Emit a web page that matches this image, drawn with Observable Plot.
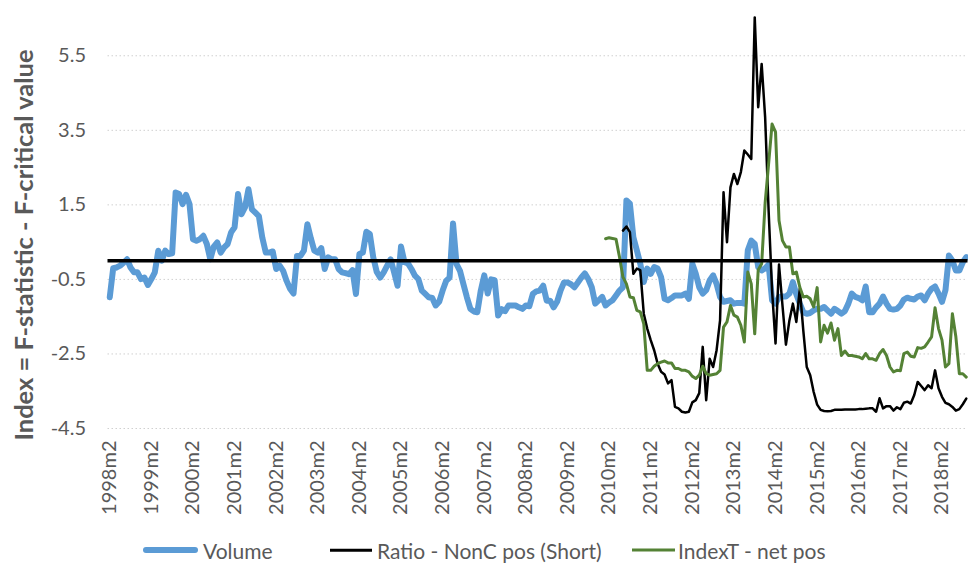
<!DOCTYPE html>
<html>
<head>
<meta charset="utf-8">
<script src="https://cdn.jsdelivr.net/npm/d3@7"></script>
<script src="https://cdn.jsdelivr.net/npm/@observablehq/plot@0.6"></script>
<style>
  html, body { margin: 0; padding: 0; background: #fff; }
  #chart { width: 968px; font-family: Lato, "Open Sans", sans-serif; }
  .legend { position: relative; height: 28px; margin-top: 6px;
            font-family: Lato, sans-serif; font-size: 21px; color: #595959; }
  .legend .sw { position: absolute; top: 50%; transform: translateY(-50%); }
  .legend .lab { position: absolute; top: 50%; transform: translateY(-50%); white-space: nowrap; line-height: 1; }
</style>
</head>
<body>
<div id="chart"></div>
<script>
// ---- Data (monthly, starting 1998m2) ----
const startYear = 1998, startMonth = 2;
const seriesNames = ["Volume", "Ratio - NonC pos (Short)", "IndexT - net pos"];
const xTickLabels = ["1998m2","1999m2","2000m2","2001m2","2002m2","2003m2","2004m2","2005m2","2006m2","2007m2",
  "2008m2","2009m2","2010m2","2011m2","2012m2","2013m2","2014m2","2015m2","2016m2","2017m2","2018m2"];
const yTicks = [-4.5, -2.5, -0.5, 1.5, 3.5, 5.5];

const volume = [
  -0.98,-0.2,-0.18,-0.13,-0.05,0.04,-0.18,-0.31,-0.31,-0.49,-0.45,-0.65,
  -0.49,-0.31,0.27,0.0,0.27,0.18,0.2,1.83,1.79,1.52,1.77,1.52,
  0.58,0.54,0.58,0.67,0.45,0.04,0.38,0.49,0.22,0.36,0.45,0.76,
  0.9,1.79,1.25,1.43,1.92,1.38,1.29,1.2,0.62,0.22,0.22,0.25,
  -0.22,-0.13,-0.27,-0.54,-0.75,-0.88,0.13,0.13,0.27,0.98,0.6,0.27,
  0.22,0.34,-0.22,0.09,0.04,0.04,-0.22,-0.31,-0.33,-0.36,-0.25,-0.89,
  0.18,0.22,0.78,0.72,0.09,-0.3,-0.45,-0.31,-0.13,0.04,-0.31,-0.67,
  0.38,-0.04,-0.07,-0.22,-0.4,-0.49,-0.8,-0.89,-0.98,-1.0,-1.2,-1.1,
  -0.8,-0.54,-0.45,1.0,-0.09,-0.27,-0.63,-0.98,-1.29,-1.36,-1.38,-0.8,
  -0.39,-0.88,-0.5,-0.52,-1.47,-1.3,-1.35,-1.2,-1.2,-1.2,-1.25,-1.29,
  -1.2,-1.22,-0.89,-0.82,-0.8,-0.67,-1.07,-1.07,-1.25,-1.1,-0.8,-0.58,
  -0.58,-0.63,-0.71,-0.58,-0.45,-0.34,-0.49,-0.71,-1.15,-1.06,-0.97,-1.2,
  -1.12,-1.06,-0.93,-0.8,-0.71,1.62,1.53,0.63,0.28,-0.08,-0.57,-0.21,
  -0.35,-0.17,-0.21,-0.44,-1.02,-1.06,-1.0,-0.93,-0.93,-0.93,-0.88,-1.02,
  -0.08,-0.35,-0.71,-0.88,-0.79,-0.53,-0.39,-0.62,-0.97,-1.1,-1.08,-1.06,
  -1.15,-1.13,-1.13,-1.15,0.28,0.54,0.45,-0.17,-0.26,-0.2,-0.1,-1.06,
  -1.15,-0.97,-0.96,-0.96,-0.88,-0.57,-0.9,-1.15,-1.38,-1.42,-1.4,-1.33,
  -1.29,-1.29,-1.24,-1.33,-1.42,-1.29,-1.35,-1.42,-1.35,-1.15,-0.88,-0.97,
  -1.0,-1.06,-0.69,-1.38,-1.38,-1.25,-1.15,-0.96,-1.15,-1.29,-1.31,-1.29,
  -1.2,-1.04,-0.99,-1.02,-1.04,-0.96,-0.93,-1.06,-0.88,-0.75,-0.69,-0.88,
  -1.1,-0.79,0.14,0.0,-0.26,-0.26,-0.04,0.1
];

// Ratio - NonC pos (Short): starts 2010m6
const ratioStart = 148;
const ratio = [
  0.81,0.92,0.77,-0.35,-0.21,-0.25,-1.42,-1.82,-2.13,-2.4,-2.76,-2.98,
  -3.05,-3.29,-3.2,-3.92,-3.96,-4.05,-4.07,-4.05,-3.8,-3.74,-3.55,-2.31,
  -3.74,-2.63,-2.85,-2.4,-1.6,1.84,0.5,1.97,2.33,2.06,2.38,2.96,
  2.85,2.73,6.53,4.12,5.28,3.85,1.35,-0.8,-2.22,-0.1,-1.2,-2.25,
  -1.6,-1.15,-1.64,-0.75,-1.87,-2.85,-3.07,-3.52,-3.86,-4.0,-4.03,-4.04,
  -4.03,-4.0,-4.0,-4.0,-3.99,-3.99,-3.99,-3.99,-3.98,-3.98,-3.97,-3.96,
  -3.96,-4.05,-3.69,-3.96,-3.9,-3.9,-4.02,-3.93,-3.98,-3.81,-3.78,-3.83,
  -3.6,-3.25,-3.36,-3.47,-3.34,-3.42,-2.94,-3.42,-3.65,-3.81,-3.85,-3.92,
  -4.02,-3.98,-3.85,-3.7
];

// IndexT - net pos: starts 2010m1
const indexTStart = 143;
const indexT = [
  0.59,0.62,0.6,0.58,0.1,-0.44,-0.62,-0.97,-0.99,-1.33,-1.37,-1.69,
  -2.94,-2.94,-2.83,-2.76,-2.72,-2.69,-2.74,-2.74,-2.89,-2.89,-2.94,-2.94,
  -2.98,-3.1,-3.16,-3.07,-2.83,-3.03,-3.07,-3.05,-3.03,-2.94,-1.78,-1.64,
  -1.2,-1.46,-1.51,-1.73,-2.18,-0.3,-0.62,-1.96,-0.25,-0.08,1.55,2.6,
  3.67,3.45,1.08,0.54,0.37,0.37,-0.35,-0.3,-0.71,-0.97,-0.95,-1.02,
  -1.24,-0.72,-2.18,-1.73,-1.94,-1.67,-2.13,-1.82,-2.54,-2.42,-2.54,-2.54,
  -2.56,-2.58,-2.63,-2.49,-2.63,-2.63,-2.67,-2.49,-2.38,-2.54,-2.85,-2.98,
  -2.94,-2.95,-2.49,-2.45,-2.56,-2.58,-2.33,-2.35,-2.31,-2.18,-2.04,-1.26,
  -1.82,-2.13,-2.85,-2.76,-1.42,-2.04,-3.03,-3.03,-3.12
];

const colors = ["#5B9BD5", "#000000", "#548235"];

// ---- Build tables ----
function monthLabel(i) {
  const k = (startMonth - 1) + i;
  return `${startYear + Math.floor(k / 12)}m${(k % 12) + 1}`;
}
const months = volume.map((_, i) => monthLabel(i));
const volData = volume.map((v, i) => ({month: months[i], value: v}));
const ratioData = ratio.map((v, i) => ({month: months[ratioStart + i], value: v}));
const indexTData = indexT.map((v, i) => ({month: months[indexTStart + i], value: v}));

const textColor = "#595959";

const plot = Plot.plot({
  width: 968,
  height: 530,
  marginLeft: 107.5,
  marginRight: 0.5,
  marginTop: 18,
  marginBottom: 102,
  style: {fontFamily: "Lato, sans-serif", fontSize: "20px", color: textColor, background: "#fff"},
  x: {type: "point", domain: months, padding: 0.5, ticks: xTickLabels, tickRotate: -90,
      tickSize: 0, tickPadding: 12, label: null},
  y: {domain: [-4.5, 6.5], ticks: yTicks, tickFormat: d => d.toFixed(1), tickSize: 0,
      tickPadding: 22, label: null},
  marks: [
    Plot.ruleY(yTicks, {stroke: "#d0d0d0", strokeWidth: 1, strokeDasharray: "1.5,2.5"}),
    Plot.lineY(volData, {x: "month", y: "value", stroke: colors[0], strokeWidth: 6, strokeLinejoin: "round", strokeLinecap: "round"}),
    Plot.lineY(ratioData, {x: "month", y: "value", stroke: colors[1], strokeWidth: 2.5, strokeLinejoin: "round"}),
    Plot.lineY(indexTData, {x: "month", y: "value", stroke: colors[2], strokeWidth: 3, strokeLinejoin: "round"}),
    Plot.ruleY([0], {stroke: "#000", strokeWidth: 3.5})
  ]
});

document.getElementById("chart").appendChild(plot);

// Y axis title
d3.select(plot).append("text")
  .attr("transform", "translate(33,245) rotate(-90)")
  .attr("text-anchor", "middle")
  .attr("font-family", "Lato, sans-serif")
  .attr("font-weight", "bold")
  .attr("font-size", "25.5px")
  .attr("fill", textColor)
  .text("Index = F-statistic - F-critical value");

// Legend (below the SVG)
const legend = d3.select("#chart").append("div").attr("class", "legend");
const legendLayout = [
  {swX: 143, w: 55, h: 6, labX: 203},
  {swX: 330, w: 42, h: 2.5, labX: 377},
  {swX: 632, w: 43, h: 3, labX: 678}
];
seriesNames.forEach((name, i) => {
  const L = legendLayout[i];
  legend.append("span").attr("class", "sw")
    .style("left", L.swX + "px").style("width", L.w + "px").style("height", L.h + "px")
    .style("background", colors[i]).style("border-radius", i === 0 ? "3px" : "0");
  legend.append("span").attr("class", "lab").style("left", L.labX + "px").text(name);
});
</script>
</body>
</html>
